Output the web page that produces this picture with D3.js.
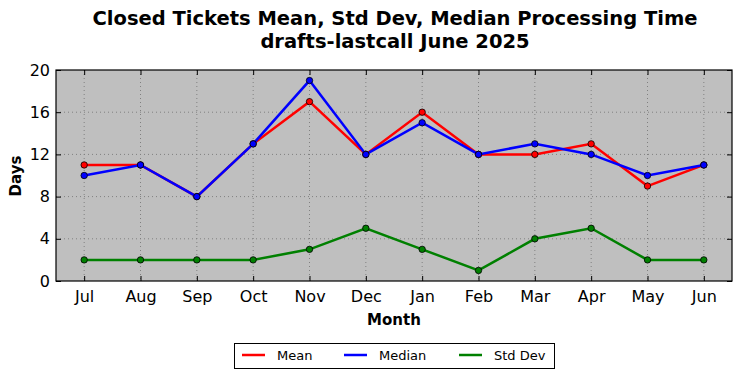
<!DOCTYPE html>
<html><head><meta charset="utf-8">
<script src="https://cdn.jsdelivr.net/npm/d3@7"></script>
<style>body{margin:0;background:#fff;}svg{display:block;font-family:"DejaVu Sans",sans-serif;}</style>
</head><body><svg id="c" width="742" height="378"></svg>
<script>
const months = ["Jul","Aug","Sep","Oct","Nov","Dec","Jan","Feb","Mar","Apr","May","Jun"];
const meanVals = [11,11,8,13,17,12,16,12,12,13,9,11];
const medianVals = [10,11,8,13,19,12,15,12,13,12,10,11];
const stdVals = [2,2,2,2,3,5,3,1,4,5,2,2];
const yTicks = [0,4,8,12,16,20];
const seriesNames = ["Mean","Median","Std Dev"];
const seriesColors = ["#ff0000","#0000ff","#008000"];
const seriesData = [meanVals, medianVals, stdVals];

const svg = d3.select("#c");
const L=56, R=732, T=70, B=281;
const x = d3.scalePoint().domain(months).range([L,R]).padding(0.5);
const y = d3.scaleLinear().domain([0,20]).range([B,T]);

svg.append("rect").attr("x",L).attr("y",T).attr("width",R-L).attr("height",B-T).attr("fill","#bfbfbf");

// grid
const g = svg.append("g");
months.forEach(m=>g.append("line").attr("x1",x(m)).attr("x2",x(m)).attr("y1",T).attr("y2",B)
  .attr("stroke","#808080").attr("stroke-width",1).attr("stroke-dasharray","1,3"));
yTicks.slice(1,-1).forEach(v=>g.append("line").attr("x1",L).attr("x2",R).attr("y1",y(v)).attr("y2",y(v))
  .attr("stroke","#808080").attr("stroke-width",1).attr("stroke-dasharray","1,3"));

// axes with inward ticks
const xAxis = svg.append("g").attr("transform",`translate(0,${B})`).call(d3.axisBottom(x).tickSizeInner(-5).tickSizeOuter(0).tickPadding(10));
const xAxisTop = svg.append("g").attr("transform",`translate(0,${T})`).call(d3.axisTop(x).tickSizeInner(-5).tickSizeOuter(0).tickFormat(""));
const yAxis = svg.append("g").attr("transform",`translate(${L},0)`).call(d3.axisLeft(y).tickValues(yTicks).tickSizeInner(-5).tickSizeOuter(0).tickPadding(6));
const yAxisR = svg.append("g").attr("transform",`translate(${R},0)`).call(d3.axisRight(y).tickValues(yTicks).tickSizeInner(-5).tickSizeOuter(0).tickFormat(""));
[xAxis,xAxisTop,yAxis,yAxisR].forEach(a=>{a.select(".domain").remove();a.selectAll("line").attr("stroke","#000");a.selectAll("text").attr("font-size",16).attr("fill","#000").attr("font-family","DejaVu Sans");});

// lines
const line = d3.line().x((d,i)=>x(months[i])).y(d=>y(d));
seriesData.forEach((vals,k)=>{
  svg.append("path").datum(vals).attr("d",line).attr("fill","none").attr("stroke",seriesColors[k]).attr("stroke-width",2.5);
});
seriesData.forEach((vals,k)=>{
  svg.append("g").selectAll("circle").data(vals).join("circle")
    .attr("cx",(d,i)=>x(months[i])).attr("cy",d=>y(d)).attr("r",3.2)
    .attr("fill",seriesColors[k]).attr("stroke","#000").attr("stroke-width",0.8);
});

svg.append("rect").attr("x",L).attr("y",T).attr("width",R-L).attr("height",B-T).attr("fill","none").attr("stroke","#000").attr("stroke-width",1.2);

// titles
svg.append("text").attr("x",395).attr("y",25).attr("text-anchor","middle").attr("font-size",19.5).attr("font-weight","bold").text("Closed Tickets Mean, Std Dev, Median Processing Time");
svg.append("text").attr("x",395).attr("y",48).attr("text-anchor","middle").attr("font-size",19.5).attr("font-weight","bold").text("drafts-lastcall June 2025");
svg.append("text").attr("x",394).attr("y",325).attr("text-anchor","middle").attr("font-size",15).attr("font-weight","bold").text("Month");
svg.append("text").attr("transform","translate(21,176) rotate(-90)").attr("text-anchor","middle").attr("font-size",15).attr("font-weight","bold").text("Days");

// legend
const lg = svg.append("g");
lg.append("rect").attr("x",234.5).attr("y",343.5).attr("width",320).attr("height",25).attr("fill","#fff").attr("stroke","#000").attr("stroke-width",1);
const lx = [242, 344, 459];
seriesNames.forEach((n,k)=>{
  lg.append("line").attr("x1",lx[k]).attr("x2",lx[k]+23).attr("y1",355).attr("y2",355).attr("stroke",seriesColors[k]).attr("stroke-width",2.5);
  lg.append("text").attr("x",lx[k]+35).attr("y",360).attr("font-size",13).text(n);
});
</script></body></html>
